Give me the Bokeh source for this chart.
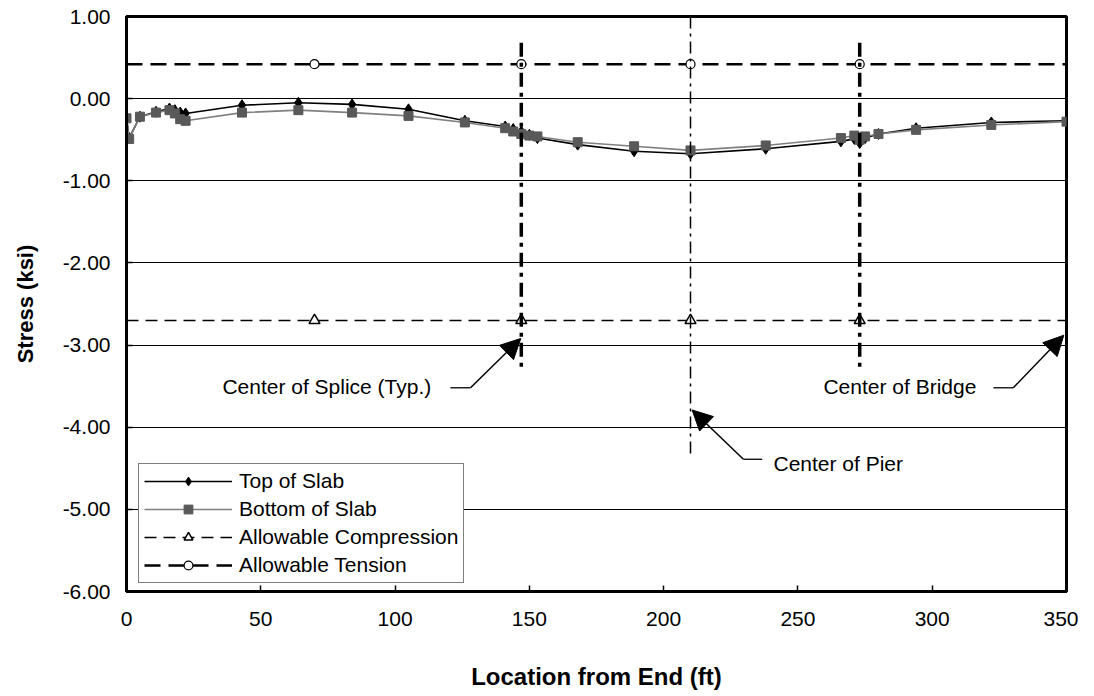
from bokeh.plotting import figure
from bokeh.models import (Range1d, FixedTicker, PrintfTickFormatter, Legend, LegendItem,
                          Arrow, NormalHead)
from bokeh.embed import file_html
from bokeh.resources import INLINE
from bokeh.core.properties import value

# ---- data ----
loc_ft = [0, 1, 5, 11, 16, 18, 20, 22, 43, 64, 84, 105, 126, 141, 144, 147, 150, 153,
          168, 189, 210, 238, 266, 271, 273, 275, 280, 294, 322, 350]
top_slab = [-0.23, -0.48, -0.22, -0.16, -0.12, -0.14, -0.17, -0.18, -0.08, -0.05, -0.07,
            -0.13, -0.27, -0.34, -0.37, -0.40, -0.44, -0.48, -0.56, -0.64, -0.67, -0.61,
            -0.52, -0.49, -0.54, -0.48, -0.43, -0.36, -0.29, -0.27]
bottom_slab = [-0.24, -0.49, -0.22, -0.17, -0.14, -0.18, -0.25, -0.27, -0.17, -0.14, -0.17,
               -0.21, -0.29, -0.36, -0.40, -0.43, -0.45, -0.46, -0.53, -0.58, -0.63, -0.57,
               -0.48, -0.45, -0.50, -0.46, -0.43, -0.38, -0.32, -0.28]

allow_line_x = [0, 350]
allow_marker_x = [70, 147, 210, 273]
allow_compression = -2.70
allow_tension = 0.42

splice_x = [147, 273]
splice_y = [0.68, -3.29]
pier_x = [210]
pier_y = [1.0, -4.33]

x_ticks = [0, 50, 100, 150, 200, 250, 300, 350]
y_ticks = [-6, -5, -4, -3, -2, -1, 0, 1]

# annotations: label, text pos, leader (x0, x1, y), arrow tip
notes = [
    ("Center of Splice (Typ.)", 35.7, -3.50, 120.6, 128.1, -3.52, 146.8, -2.92),
    ("Center of Bridge", 259.5, -3.50, 322.8, 330.2, -3.52, 349.0, -2.88),
    ("Center of Pier", 240.9, -4.44, 236.7, 229.7, -4.39, 210.6, -3.79),
]

FONT = "Liberation Sans"

p = figure(width=1078, height=692, output_backend="svg", toolbar_location=None,
           x_range=Range1d(0, 350), y_range=Range1d(-6, 1),
           min_border_left=126, min_border_right=12, min_border_top=16, min_border_bottom=96)

p.background_fill_color = "white"
p.border_fill_color = "white"
p.outline_line_color = "black"
p.outline_line_width = 3
p.xgrid.grid_line_color = None
p.ygrid.grid_line_color = "black"
p.ygrid.grid_line_width = 1.2
p.ygrid.ticker = FixedTicker(ticks=y_ticks)

for ax in (p.xaxis[0], p.yaxis[0]):
    ax.axis_line_color = "black"
    ax.axis_line_width = 3
    ax.major_tick_in = 6
    ax.major_tick_out = 0
    ax.major_tick_line_width = 1.5
    ax.minor_tick_line_color = None
    ax.major_label_text_font = FONT
    ax.major_label_text_font_size = "21px"
    ax.major_label_text_color = "black"
    ax.axis_label_text_font = FONT
    ax.axis_label_text_font_style = "bold"
    ax.axis_label_text_color = "black"

p.xaxis.axis_label_text_font_size = "24px"
p.yaxis.axis_label_text_font_size = "22px"
p.xaxis.ticker = FixedTicker(ticks=x_ticks)
p.yaxis.ticker = FixedTicker(ticks=y_ticks)
p.yaxis.formatter = PrintfTickFormatter(format="%.2f")
p.xaxis.axis_label = "Location from End (ft)"
p.yaxis.axis_label = "Stress (ksi)"
p.xaxis.major_label_standoff = 20
p.xaxis.axis_label_standoff = 34
p.yaxis.major_label_standoff = 16
p.yaxis.axis_label_standoff = 22

# series
top_line = p.line(loc_ft, top_slab, line_color="black", line_width=1.6)
top_pts = p.scatter(loc_ft, top_slab, marker="diamond", size=11, fill_color="black",
                    line_color="black")
bot_line = p.line(loc_ft, bottom_slab, line_color="#808080", line_width=1.6)
bot_pts = p.scatter(loc_ft, bottom_slab, marker="square", size=9, fill_color="#595959",
                    line_color="#595959")

comp_line = p.line(allow_line_x, [allow_compression] * len(allow_line_x), line_color="black",
                   line_width=1.5, line_dash="12 7")
comp_pts = p.scatter(allow_marker_x, [allow_compression] * len(allow_marker_x), marker="triangle",
                     size=11, fill_color="white", line_color="black", line_width=1.5)
ten_line = p.line(allow_line_x, [allow_tension] * len(allow_line_x), line_color="black",
                  line_width=2.5, line_dash="16 8")
ten_pts = p.scatter(allow_marker_x, [allow_tension] * len(allow_marker_x), marker="circle",
                    size=9, fill_color="white", line_color="black", line_width=1.2)

# vertical reference lines
p.segment(x0=splice_x, x1=splice_x, y0=[splice_y[0]] * len(splice_x),
          y1=[splice_y[1]] * len(splice_x), line_color="black", line_width=3.5,
          line_dash="14 6 4 6")
p.segment(x0=pier_x, x1=pier_x, y0=[pier_y[0]], y1=[pier_y[1]], line_color="black",
          line_width=1.5, line_dash="12 5 3 5")

# annotations
for label, tx, ty, lx0, lx1, ly, ax_, ay_ in notes:
    p.text(x=[tx], y=[ty], text=[label], text_font=value(FONT), text_font_size="21px",
           text_color="black", text_baseline="middle", text_align="left")
    p.segment(x0=[lx0], x1=[lx1], y0=[ly], y1=[ly], line_color="black", line_width=1.3)
    p.add_layout(Arrow(end=NormalHead(size=20, fill_color="black", line_color="black"),
                       x_start=lx1, y_start=ly, x_end=ax_, y_end=ay_,
                       line_color="black", line_width=1.5))

legend = Legend(items=[
    LegendItem(label="Top of Slab", renderers=[top_line, top_pts]),
    LegendItem(label="Bottom of Slab", renderers=[bot_line, bot_pts]),
    LegendItem(label="Allowable Compression", renderers=[comp_line, comp_pts]),
    LegendItem(label="Allowable Tension", renderers=[ten_line, ten_pts]),
], location=(12, 8))
legend.margin = 0
legend.padding = 5
legend.spacing = 4
legend.glyph_width = 88
legend.glyph_height = 22
legend.label_height = 22
legend.label_standoff = 7
legend.label_text_font = FONT
legend.label_text_font_size = "21px"
legend.label_text_color = "black"
legend.border_line_color = "black"
legend.border_line_width = 1.2
legend.background_fill_color = "white"
legend.background_fill_alpha = 1
p.add_layout(legend)

open("out.html", "w").write(file_html(p, INLINE))
